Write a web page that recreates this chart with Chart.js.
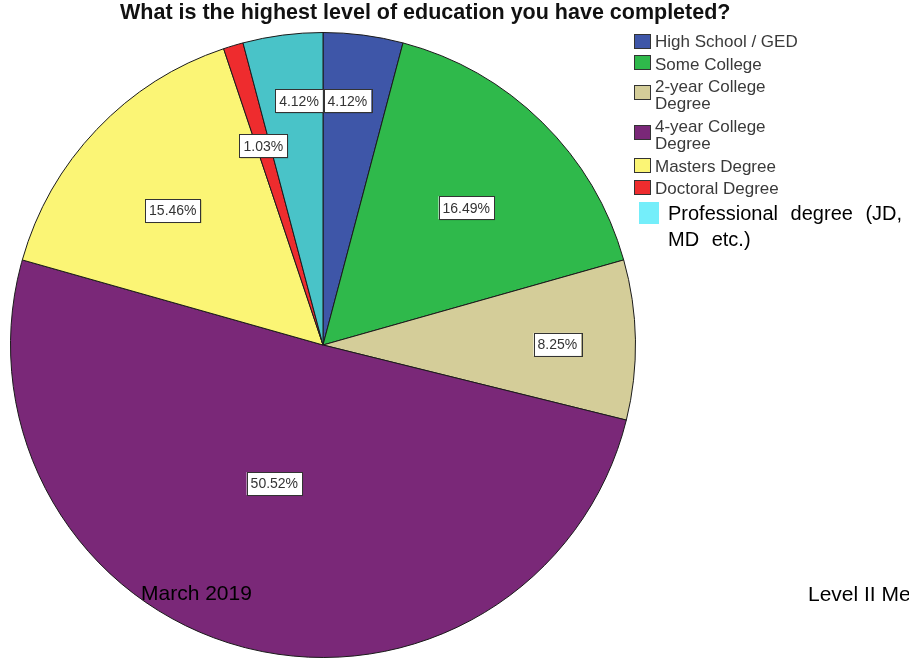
<!DOCTYPE html>
<html>
<head>
<meta charset="utf-8">
<script src="https://cdn.jsdelivr.net/npm/chart.js@4.4.1/dist/chart.umd.min.js"></script>
<style>
  html, body { margin: 0; padding: 0; background: #fff; }
  #wrap { position: relative; width: 909px; height: 659px; overflow: hidden; font-family: "Liberation Sans", Arial, sans-serif; }
  #pie { position: absolute; left: 0; top: 0; }
  .txt { position: absolute; white-space: nowrap; }
  #title { left: 120px; top: 2px; font-size: 21.5px; line-height: 21.5px; font-weight: bold; color: #111; }
  .lg { position: absolute; left: 655px; font-size: 17px; line-height: 17px; color: #3a3a3a; white-space: nowrap; }
  .sw { position: absolute; left: 634px; width: 17px; height: 15px; box-sizing: border-box; border: 1px solid #333; }
  .foot { font-size: 21px; line-height: 21px; color: #000; }
</style>
</head>
<body>
<div id="wrap">
  <canvas id="pie" width="909" height="659"></canvas>
  <div id="title" class="txt">What is the highest level of education you have completed?</div>
  <div id="legend"></div>
  <div class="txt foot" style="left:141px; top:582px;">March 2019</div>
  <div class="txt foot" style="left:808px; top:583px;">Level II Me</div>
</div>
<script>
// answers, clockwise from 12 o'clock
var categories = ["High School / GED", "Some College", "2-year College Degree", "4-year College Degree", "Masters Degree", "Doctoral Degree", "Professional degree (JD, MD etc.)"];
var percents = [4.12, 16.49, 8.25, 50.52, 15.46, 1.03, 4.12];
var percentLabels = ["4.12%", "16.49%", "8.25%", "50.52%", "15.46%", "1.03%", "4.12%"];
var sliceColors = ["#3e56a8", "#2fb94b", "#d4cd99", "#7a2878", "#fbf575", "#ee2c2e", "#49c3c8"];

// legend rows (drawn as html, spss style)
var legendRows = [
    { text: "High School / GED", sw: 34, top: 33 },
    { text: "Some College", sw: 55, top: 56 },
    { text: "2-year College<br>Degree", sw: 85, top: 78 },
    { text: "4-year College<br>Degree", sw: 125, top: 118 },
    { text: "Masters Degree", sw: 158, top: 158 },
    { text: "Doctoral Degree", sw: 180, top: 180 }
];
var lg = document.getElementById("legend");
var html = "";
for (var i = 0; i < legendRows.length; i++) {
    html += '<div class="sw" style="top:' + legendRows[i].sw + 'px;background:' + sliceColors[i] + '"></div>';
    html += '<div class="lg" style="top:' + legendRows[i].top + 'px">' + legendRows[i].text + '</div>';
}
// the last entry was pasted in with a different look
html += '<div style="position:absolute;left:639px;top:202px;width:20px;height:22px;background:#74eefa"></div>';
html += '<div class="txt" style="left:668px;top:200px;font-size:20px;line-height:26px;color:#000;word-spacing:7px">Professional degree (JD,<br>MD etc.)</div>';
lg.innerHTML = html;

// boxed percent labels inside the slices
var labelRadius = [0.785, 0.635, 0.75, 0.47, 0.645, 0.665, 0.785];
var labelTurn = [-1.7, 1.7, 0.8, 4.5, -1.8, 0, 1.8];

var boxLabels = {
    id: "boxLabels",
    afterDatasetsDraw: function(chart) {
        var ctx = chart.ctx;
        var arcs = chart.getDatasetMeta(0).data;
        ctx.save();
        ctx.font = "14px 'Liberation Sans', Arial, sans-serif";
        ctx.textAlign = "center";
        ctx.textBaseline = "middle";
        for (var i = 0; i < arcs.length; i++) {
            var a = arcs[i];
            var mid = (a.startAngle + a.endAngle) / 2 + labelTurn[i] * Math.PI / 180;
            var r = a.outerRadius * labelRadius[i];
            var x = a.x + Math.cos(mid) * r;
            var y = a.y + Math.sin(mid) * r;
            var w = ctx.measureText(percentLabels[i]).width + 8;
            var h = 23;
            ctx.fillStyle = "rgba(0,0,0,0.25)";
            ctx.fillRect(x - w / 2 + 1, y - h / 2 + 1, w, h);
            ctx.fillStyle = "#fff";
            ctx.fillRect(x - w / 2, y - h / 2, w, h);
            ctx.strokeStyle = "#333";
            ctx.lineWidth = 1;
            ctx.strokeRect(Math.round(x - w / 2) + 0.5, Math.round(y - h / 2) + 0.5, Math.round(w), h);
            ctx.fillStyle = "#333";
            ctx.fillText(percentLabels[i], x, y + 1);
        }
        ctx.restore();
    }
};

var pieChart = new Chart(document.getElementById("pie").getContext("2d"), {
    type: "pie",
    data: {
        labels: categories,
        datasets: [{
            data: percents,
            backgroundColor: sliceColors,
            borderColor: "#1a1a1a",
            borderWidth: 1
        }]
    },
    options: {
        responsive: false,
        animation: false,
        layout: { padding: { left: 10, top: 32, right: 273, bottom: 1 } },
        plugins: {
            legend: { display: false },
            title: { display: false },
            tooltip: { enabled: false }
        }
    },
    plugins: [boxLabels]
});
</script>
</body>
</html>
